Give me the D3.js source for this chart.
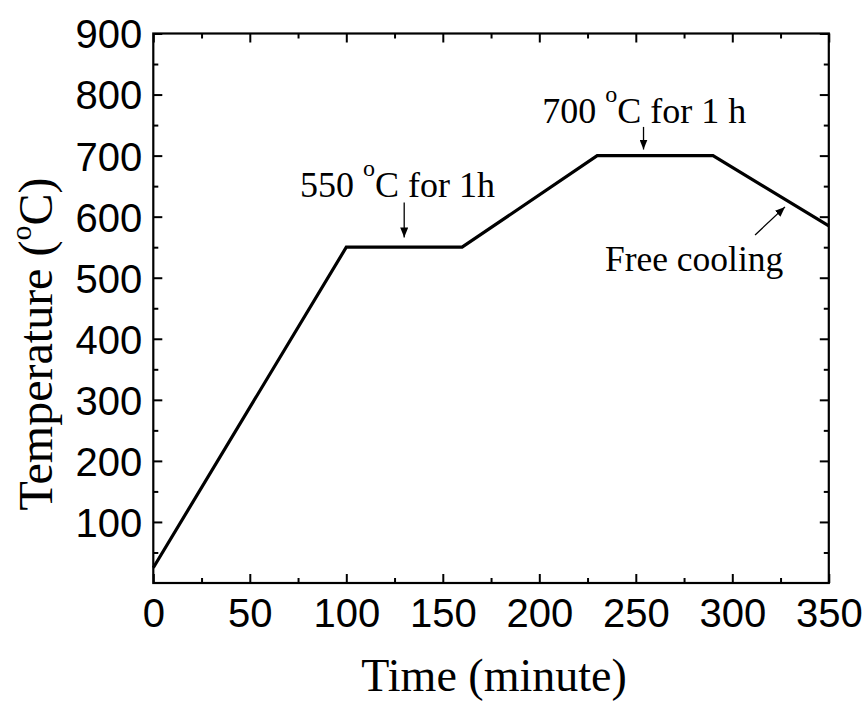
<!DOCTYPE html>
<html>
<head>
<meta charset="utf-8">
<script src="https://cdn.jsdelivr.net/npm/d3@7"></script>
<style>
  body { margin: 0; background: #fff; }
  svg { display: block; }
</style>
</head>
<body>
<svg id="chart"></svg>
<script>
// heat treatment profile (minute, degC)
const times = [0, 100, 160, 230, 290, 350];
const temps = [25, 550, 550, 700, 700, 585];

const xMajor = [0, 50, 100, 150, 200, 250, 300, 350];
const xMinor = [25, 75, 125, 175, 225, 275, 325];
const yMajor = [100, 200, 300, 400, 500, 600, 700, 800, 900];
const yMinor = [50, 150, 250, 350, 450, 550, 650, 750, 850];

// annotations: text anchor + arrow (from -> to) in data units
const notes = [
  { pre: '550 ', sup: 'o', post: 'C for 1h', x: 76, y: 632, size: 36 },
  { pre: '700 ', sup: 'o', post: 'C for 1 h', x: 201.5, y: 754, size: 36 },
  { pre: 'Free cooling', sup: '', post: '', x: 234, y: 511, size: 35.5 }
];
const arrows = [
  { x1: 130, y1: 623, x2: 130, y2: 566 },
  { x1: 254, y1: 747, x2: 254, y2: 710 },
  { x1: 311.8, y1: 570, x2: 327.3, y2: 616 }
];

const W = 866, H = 702;
const svg = d3.select('#chart').attr('width', W).attr('height', H);

const x = d3.scaleLinear().domain([0, 350]).range([153.3, 828.8]);
const y = d3.scaleLinear().domain([0, 900]).range([583, 33.5]);

const serif = '"Liberation Serif", "Times New Roman", serif';
const sans = '"Liberation Sans", Arial, sans-serif';

// arrow head
svg.append('defs').append('marker')
  .attr('id', 'head')
  .attr('viewBox', '0 0 10 8')
  .attr('refX', 10).attr('refY', 4)
  .attr('markerUnits', 'userSpaceOnUse')
  .attr('markerWidth', 10).attr('markerHeight', 8)
  .attr('orient', 'auto')
  .append('path').attr('d', 'M0,0 L10,4 L0,8 Z').attr('fill', '#000');

// axes (ticks point inward, mirrored on top/right)
const styleAxis = (g) => {
  g.select('.domain').remove();
  g.selectAll('line').attr('stroke', '#000').attr('stroke-width', 2);
};

svg.append('g').attr('transform', `translate(0,${y.range()[0]})`)
  .call(d3.axisBottom(x).tickValues(xMajor).tickSize(-9).tickPadding(16))
  .call(styleAxis)
  .call(g => g.selectAll('text').attr('font-family', sans).attr('font-size', 40).attr('fill', '#000'));
svg.append('g').attr('transform', `translate(0,${y.range()[0]})`)
  .call(d3.axisBottom(x).tickValues(xMinor).tickSize(-5).tickFormat(''))
  .call(styleAxis);
svg.append('g').attr('transform', `translate(0,${y.range()[1]})`)
  .call(d3.axisTop(x).tickValues(xMajor).tickSize(-9).tickFormat(''))
  .call(styleAxis);
svg.append('g').attr('transform', `translate(0,${y.range()[1]})`)
  .call(d3.axisTop(x).tickValues(xMinor).tickSize(-5).tickFormat(''))
  .call(styleAxis);

svg.append('g').attr('transform', `translate(${x.range()[0]},0)`)
  .call(d3.axisLeft(y).tickValues(yMajor).tickSize(-9).tickPadding(11))
  .call(styleAxis)
  .call(g => g.selectAll('text').attr('font-family', sans).attr('font-size', 40).attr('fill', '#000').attr('dy', '0.36em'));
svg.append('g').attr('transform', `translate(${x.range()[0]},0)`)
  .call(d3.axisLeft(y).tickValues(yMinor).tickSize(-5).tickFormat(''))
  .call(styleAxis);
svg.append('g').attr('transform', `translate(${x.range()[1]},0)`)
  .call(d3.axisRight(y).tickValues(yMajor).tickSize(-9).tickFormat(''))
  .call(styleAxis);
svg.append('g').attr('transform', `translate(${x.range()[1]},0)`)
  .call(d3.axisRight(y).tickValues(yMinor).tickSize(-5).tickFormat(''))
  .call(styleAxis);

// frame
svg.append('rect')
  .attr('x', x.range()[0]).attr('y', y.range()[1])
  .attr('width', x.range()[1] - x.range()[0])
  .attr('height', y.range()[0] - y.range()[1])
  .attr('fill', 'none').attr('stroke', '#000').attr('stroke-width', 2.2);

// profile line
const line = d3.line().x((d, i) => x(times[i])).y(d => y(d));
svg.append('path')
  .datum(temps)
  .attr('d', line)
  .attr('fill', 'none')
  .attr('stroke', '#000')
  .attr('stroke-width', 3.2)
  .attr('stroke-linejoin', 'miter');

// annotations
notes.forEach(n => {
  const t = svg.append('text')
    .attr('x', x(n.x)).attr('y', y(n.y))
    .attr('font-family', serif).attr('font-size', n.size).attr('fill', '#000');
  t.append('tspan').text(n.pre);
  if (n.sup) {
    t.append('tspan').attr('font-size', 24).attr('dy', -21).text(n.sup);
    t.append('tspan').attr('dy', 21).text(n.post);
  }
});
svg.selectAll('line.arrow')
  .data(arrows)
  .enter().append('line')
  .attr('class', 'arrow')
  .attr('x1', d => x(d.x1)).attr('y1', d => y(d.y1))
  .attr('x2', d => x(d.x2)).attr('y2', d => y(d.y2))
  .attr('stroke', '#000').attr('stroke-width', 1.3)
  .attr('marker-end', 'url(#head)');

// axis titles
svg.append('text')
  .attr('x', (x.range()[0] + x.range()[1]) / 2 + 3).attr('y', 691)
  .attr('text-anchor', 'middle')
  .attr('font-family', serif).attr('font-size', 46).attr('fill', '#000')
  .text('Time (minute)');

const yt = svg.append('text')
  .attr('transform', 'translate(52,344) rotate(-90)')
  .attr('text-anchor', 'middle')
  .attr('font-family', serif).attr('font-size', 48).attr('fill', '#000');
yt.append('tspan').text('Temperature (');
yt.append('tspan').attr('font-size', 30).attr('dy', -21).text('o');
yt.append('tspan').attr('dy', 21).text('C)');
</script>
</body>
</html>
